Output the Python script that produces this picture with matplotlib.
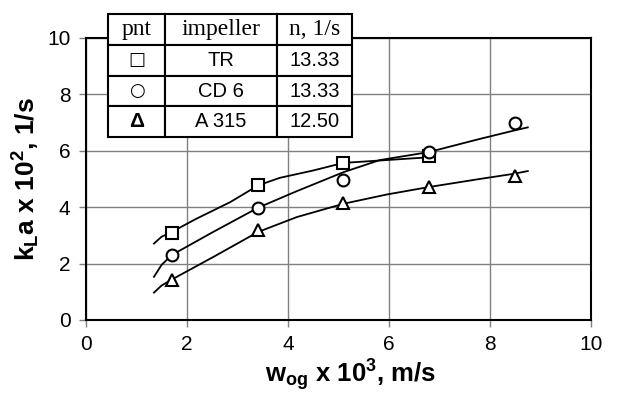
import matplotlib.pyplot as plt

plt.rcParams['font.family'] = ['Liberation Sans', 'DejaVu Sans']
plt.rcParams['mathtext.fontset'] = 'custom'
plt.rcParams['mathtext.rm'] = 'Liberation Sans:bold'
plt.rcParams['mathtext.bf'] = 'Liberation Sans:bold'
plt.rcParams['mathtext.default'] = 'bf'

# measured points
x_pts = [1.7, 3.4, 5.1, 6.8, 8.5]
tr_y = [3.1, 4.77, 5.57, 5.8]
cd6_y = [2.3, 3.98, 4.97, 5.95, 6.97]
a315_y = [1.43, 3.2, 4.15, 4.7, 5.1]

# fitted curves
tr_cx = [1.35, 1.5, 1.7, 2.19, 2.86, 3.41, 3.84, 4.5, 5.1, 6.8]
tr_cy = [2.71, 2.95, 3.12, 3.59, 4.18, 4.77, 5.04, 5.3, 5.57, 5.77]
cd6_cx = [1.35, 1.5, 1.7, 2.52, 3.41, 4.18, 5.1, 5.82, 6.78, 7.8, 8.46, 8.75]
cd6_cy = [1.53, 1.95, 2.3, 3.12, 3.98, 4.57, 5.24, 5.67, 5.95, 6.42, 6.71, 6.83]
a315_cx = [1.35, 1.5, 1.7, 2.53, 3.41, 4.18, 5.1, 5.96, 6.78, 7.8, 8.46, 8.75]
a315_cy = [0.97, 1.22, 1.43, 2.24, 3.12, 3.65, 4.12, 4.45, 4.71, 5.0, 5.18, 5.28]

col_labels = ['pnt', 'impeller', 'n, 1/s']
symbols = ['\u25a1', '\u25cb', '\u0394']
impellers = ['TR', 'CD 6', 'A 315']
speeds = ['13.33', '13.33', '12.50']

fig = plt.figure(figsize=(6.26, 4.04), dpi=100)
ax = fig.add_axes([0.137, 0.208, 0.807, 0.698])

ax.plot(tr_cx, tr_cy, '-k', lw=1.3)
ax.plot(cd6_cx, cd6_cy, '-k', lw=1.3)
ax.plot(a315_cx, a315_cy, '-k', lw=1.3)
mk = dict(ls='none', mfc='white', mec='black', mew=1.5, zorder=3)
ax.plot(x_pts[:len(tr_y)], tr_y, marker='s', ms=8, **mk)
ax.plot(x_pts, cd6_y, marker='o', ms=8.5, **mk)
ax.plot(x_pts, a315_y, marker='^', ms=9, **mk)

ax.set_xlim(0, 10)
ax.set_ylim(0, 10)
ax.set_xticks(range(0, 11, 2))
ax.set_yticks(range(0, 11, 2))
ax.grid(color='#808080', lw=1)
ax.set_axisbelow(True)
for s in ax.spines.values():
    s.set_linewidth(1.5)
ax.tick_params(labelsize=15, length=5, color='#808080', width=1, pad=6)
ax.set_xlabel(r'w$_{og}$ x 10$^3$, m/s', fontsize=18.5, fontweight='bold', labelpad=2)
ax.xaxis.label.set_x(0.525)
ax.set_ylabel(r'k$_L$a x 10$^2$, 1/s', fontsize=19, fontweight='bold', labelpad=4)

rows = [[symbols[i], impellers[i], speeds[i]] for i in range(3)]
tab = ax.table(cellText=rows, colLabels=col_labels, cellLoc='center',
               colWidths=[0.113, 0.222, 0.149],
               bbox=[0.044, 0.648, 0.484, 0.437])
tab.auto_set_font_size(False)
for (r, c), cell in tab.get_celld().items():
    cell.set_linewidth(1.5)
    cell.set_facecolor('white')
    cell.set_zorder(5)
    t = cell.get_text()
    if r == 0:
        t.set_fontfamily('Liberation Serif')
        t.set_fontsize(17)
    elif c == 0:
        t.set_fontweight('bold')
        if r == 3:
            t.set_fontsize(15)
        else:
            t.set_fontfamily(['DejaVu Sans'])
            t.set_fontsize(13)
    else:
        t.set_fontsize(14.5)
tab.set_zorder(5)
tab.set_clip_on(False)

fig.savefig('out.png', dpi=100)
